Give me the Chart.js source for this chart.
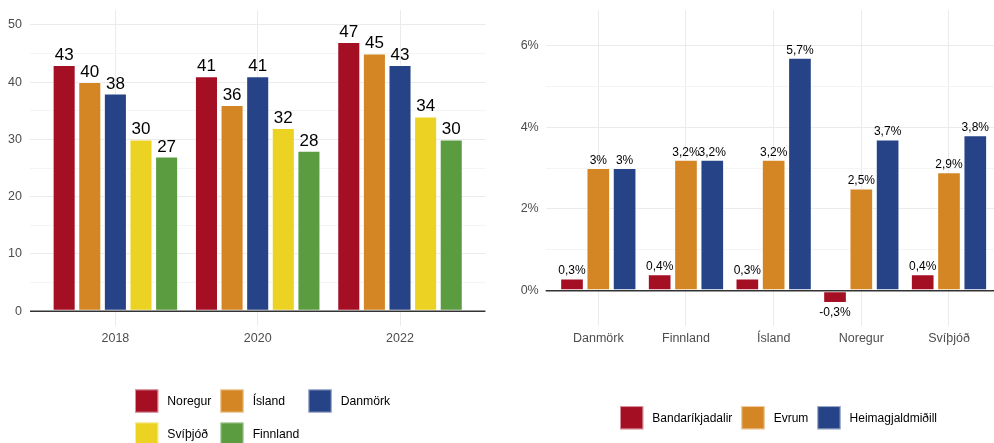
<!DOCTYPE html>
<html><head><meta charset="utf-8">
<script src="https://cdn.jsdelivr.net/npm/chart.js@4.4.1/dist/chart.umd.min.js"></script>
<style>
html,body{margin:0;padding:0;background:#fff;}
#wrap{position:relative;width:994px;height:443px;overflow:hidden;background:#fff;}
#c1{position:absolute;left:0;top:0;width:500px;height:443px;}
#c2{position:absolute;left:500px;top:0;width:502px;height:443px;}
</style></head><body>
<div id="wrap"><canvas id="c1" width="500" height="443"></canvas><canvas id="c2" width="502" height="443"></canvas></div>
<script>
// ---- Left chart data ----
const years = ['2018', '2020', '2022'];
const leftNames = ['Noregur', 'Ísland', 'Danmörk', 'Svíþjóð', 'Finnland'];
const noregur  = [43, 41, 47];
const island   = [40, 36, 45];
const danmork  = [38, 41, 43];
const svithjod = [30, 32, 34];
const finnland = [27, 28, 30];
const leftTicks = [0, 10, 20, 30, 40, 50];

// ---- Right chart data ----
const countries = ['Danmörk', 'Finnland', 'Ísland', 'Noregur', 'Svíþjóð'];
const rightNames = ['Bandaríkjadalir', 'Evrum', 'Heimagjaldmiðill'];
const bandarikjadalir  = [0.3, 0.4, 0.3, -0.3, 0.4];
const evrum            = [3, 3.2, 3.2, 2.5, 2.9];
const heimagjaldmidill = [3, 3.2, 5.7, 3.7, 3.8];
const rightTicks = [0, 2, 4, 6];

const RED = '#A50F24', ORANGE = '#D48624', BLUE = '#264387', YELLOW = '#ECD222', GREEN = '#5B9C40';
const FONT = "'Liberation Sans', Arial, Helvetica, sans-serif";
const TICK_COLOR = '#4d4d4d';

function pts(vals) { return vals.map((v, i) => ({ x: i + 1, y: v })); }
function mkDs(name, vals, color) {
  return { label: name, data: pts(vals), backgroundColor: color, borderColor: 'rgba(255,255,255,0.55)',
           borderWidth: 1, borderSkipped: false, categoryPercentage: 0.9, barPercentage: 0.9 };
}

function zeroLine() {
  return { id: 'zeroLine', afterDatasetsDraw(chart) {
    const ctx = chart.ctx, a = chart.chartArea, y = chart.scales.y.getPixelForValue(0);
    ctx.save(); ctx.strokeStyle = '#333'; ctx.lineWidth = 1.5;
    ctx.beginPath(); ctx.moveTo(a.left, y); ctx.lineTo(a.right, y); ctx.stroke(); ctx.restore();
  } };
}
function valueLabels(size, gap, negGap, fmt) {
  return { id: 'valueLabels', afterDatasetsDraw(chart) {
    const ctx = chart.ctx; ctx.save();
    ctx.font = size + 'px ' + FONT; ctx.fillStyle = '#000'; ctx.textAlign = 'center'; ctx.textBaseline = 'alphabetic';
    chart.data.datasets.forEach((ds, di) => {
      chart.getDatasetMeta(di).data.forEach((bar, i) => {
        const v = ds.data[i].y;
        if (v >= 0) ctx.fillText(fmt(v), bar.x, bar.y - gap);
        else ctx.fillText(fmt(v), bar.x, bar.y + negGap);
      });
    });
    ctx.restore();
  } };
}
function ggLegend(startX, rowYs, ncol, fontSize) {
  return { id: 'ggLegend', afterDraw(chart) {
    const ctx = chart.ctx, ds = chart.data.datasets, sw = 23.3, tg = 9, cg = 9;
    ctx.save(); ctx.font = fontSize + 'px ' + FONT; ctx.textBaseline = 'middle'; ctx.textAlign = 'left';
    const colW = [];
    ds.forEach((d, i) => { const c = i % ncol; const w = ctx.measureText(d.label).width;
      colW[c] = Math.max(colW[c] || 0, sw + tg + w + cg); });
    ds.forEach((d, i) => {
      const c = i % ncol, r = Math.floor(i / ncol);
      let x = startX; for (let k = 0; k < c; k++) x += colW[k];
      const yc = rowYs[r];
      ctx.fillStyle = d.backgroundColor; ctx.fillRect(x, yc - sw / 2, sw, sw);
      ctx.strokeStyle = 'rgba(255,255,255,0.55)'; ctx.lineWidth = 1; ctx.strokeRect(x + 0.5, yc - sw / 2 + 0.5, sw - 1, sw - 1);
      ctx.fillStyle = '#000'; ctx.fillText(d.label, x + sw + tg, yc + 0.5);
    });
    ctx.restore();
  } };
}

function baseScales(cats, xmin, xmax, ymin, ymax, yTickVals, minorVals, yLabel, yWidth, xHeight, yPad) {
  const all = yTickVals.concat(minorVals).sort((a, b) => a - b);
  return {
    x: { type: 'linear', min: xmin, max: xmax, offset: false,
      grid: { color: '#ebebeb', lineWidth: 1, drawTicks: false, offset: false }, border: { display: false },
      afterBuildTicks: s => { s.ticks = cats.map((_, i) => ({ value: i + 1 })); },
      ticks: { callback: v => cats[v - 1], color: TICK_COLOR, font: { family: FONT, size: 12.5 }, padding: 5, autoSkip: false, maxRotation: 0 },
      afterFit: s => { s.height = xHeight; s.paddingLeft = 0; s.paddingRight = 0; } },
    y: { type: 'linear', min: ymin, max: ymax,
      grid: { color: c => (c.tick && yTickVals.indexOf(c.tick.value) >= 0) ? '#ebebeb' : '#f4f4f4', lineWidth: 1, drawTicks: false },
      border: { display: false },
      afterBuildTicks: s => { s.ticks = all.map(v => ({ value: v })); },
      ticks: { callback: v => yTickVals.indexOf(v) >= 0 ? yLabel(v) : '', color: TICK_COLOR, font: { family: FONT, size: 12.5 }, padding: yPad, autoSkip: false },
      afterFit: s => { s.width = yWidth; s.paddingTop = 0; s.paddingBottom = 0; } }
  };
}

new Chart(document.getElementById('c1'), {
  type: 'bar',
  data: { datasets: [
    mkDs(leftNames[0], noregur, RED), mkDs(leftNames[1], island, ORANGE), mkDs(leftNames[2], danmork, BLUE),
    mkDs(leftNames[3], svithjod, YELLOW), mkDs(leftNames[4], finnland, GREEN)] },
  options: { responsive: false, animation: false, devicePixelRatio: 1,
    layout: { padding: { left: 0, right: 14.6, top: 10, bottom: 0 } },
    plugins: { legend: { display: false }, tooltip: { enabled: false } },
    scales: baseScales(years, 0.4, 3.6, -2.5, 52.58, leftTicks, [5, 15, 25, 35, 45], v => String(v), 30, 117.4, 8) },
  plugins: [zeroLine(), valueLabels(17, 5, 16, v => String(v)), ggLegend(135, [401, 434], 3, 12.2)]
});

new Chart(document.getElementById('c2'), {
  type: 'bar',
  data: { datasets: [
    mkDs(rightNames[0], bandarikjadalir, RED), mkDs(rightNames[1], evrum, ORANGE), mkDs(rightNames[2], heimagjaldmidill, BLUE)] },
  options: { responsive: false, animation: false, devicePixelRatio: 1,
    layout: { padding: { left: 0, right: 0.4, top: 10, bottom: 0 } },
    plugins: { legend: { display: false }, tooltip: { enabled: false } },
    scales: baseScales(countries, 0.4, 5.6, -0.863, 6.865, rightTicks, [1, 3, 5], v => v + '%', 45.7, 117, 7) },
  plugins: [zeroLine(), valueLabels(12, 4, 13, v => String(v).replace('.', ',') + '%'), ggLegend(120, [417.7], 3, 12)]
});
</script>
</body></html>
